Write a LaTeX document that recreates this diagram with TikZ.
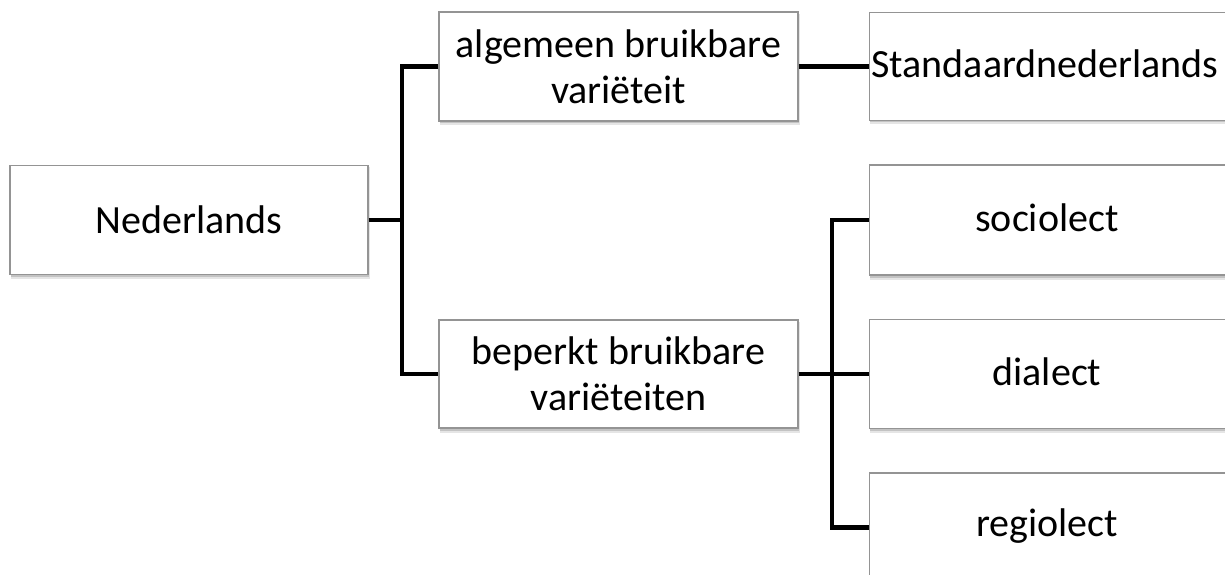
\documentclass[tikz,border=0pt]{standalone}
\usepackage{fontspec}
\setmainfont{Carlito}
\begin{document}
\begin{tikzpicture}[x=1pt,y=-1pt,
  box/.style={draw=black!42, line width=1.3pt, fill=white, inner sep=0pt, align=center,
    font=\fontsize{40}{46}\selectfont, text=black},
  lbl/.style={font=\fontsize{40}{46}\selectfont, inner sep=0pt},
  conn/.style={line width=4.6pt, black, line join=miter}]
\useasboundingbox (0,0) rectangle (1225,575);
\clip (0,0) rectangle (1225,575);
% shadows
\foreach \l/\t/\r/\b in {10/165/368/274, 439/12/798/121, 439/320/798/428, 869/12/1235/120, 869/165/1235/275, 869/319/1235/428, 869/473/1235/582}{
  \fill[black, opacity=0.10] (\l+1,\t+2) rectangle (\r+2,\b+4.5);
  \fill[black, opacity=0.15] (\l+1,\t+1) rectangle (\r+1,\b+2.5);
}
\node[box, minimum width=358pt, minimum height=109pt] (ned) at (189,220) {Nederlands};
\node[box, minimum width=359pt, minimum height=109pt] (alg) at (618.5,66.5) {algemeen bruikbare\\variëteit};
\node[box, minimum width=359pt, minimum height=108pt] (bep) at (618.5,374) {beperkt bruikbare\\variëteiten};
\node[box, minimum width=366pt, minimum height=108pt, anchor=west] (std) at (869,66.5) {};
\node[box, minimum width=366pt, minimum height=110pt, anchor=west] (soc) at (869,220) {};
\node[box, minimum width=366pt, minimum height=109pt, anchor=west] (dia) at (869,374) {};
\node[box, minimum width=366pt, minimum height=109pt, anchor=west] (reg) at (869,527.5) {};
\node[lbl] (stdt) at (1045,64) {Standaardnederlands};
\node[lbl] (soct) at (1047,218) {sociolect};
\node[lbl] (diat) at (1047,372) {dialect};
\node[lbl] (regt) at (1047,526) {regiolect};
\coordinate (j1) at (402,220);
\coordinate (j2) at (832,374);
\draw[conn] (ned.east) -- (j1);
\draw[conn] (alg.west) -| (j1) |- (bep.west);
\draw[conn] (alg.east) -- (std.west);
\draw[conn] (bep.east) -- (dia.west);
\draw[conn] (soc.west) -| (j2) |- (reg.west);
\end{tikzpicture}
\end{document}
